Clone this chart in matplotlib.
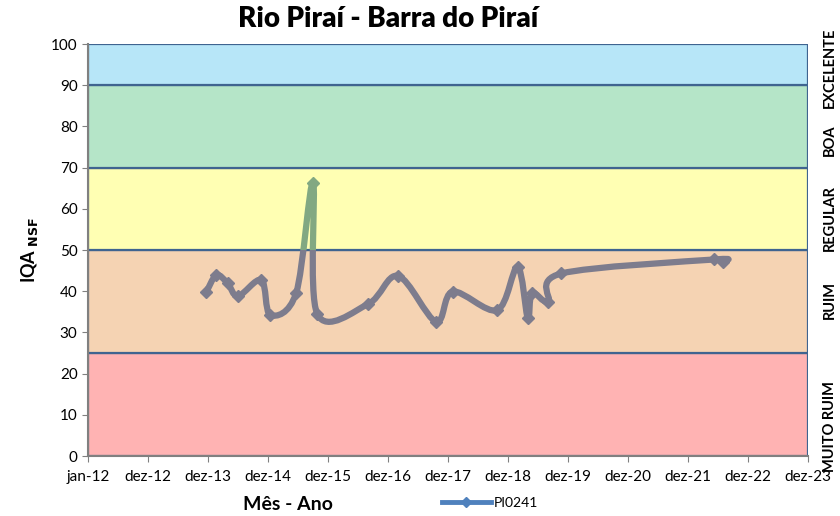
import numpy as np
import matplotlib
matplotlib.use("Agg")
import matplotlib.pyplot as plt
from matplotlib.path import Path
from matplotlib.patches import PathPatch, Rectangle
from matplotlib.lines import Line2D

# ---- data ----
x_years = [2013.97, 2014.14, 2014.33, 2014.50, 2014.89, 2015.04, 2015.47, 2015.75,
           2015.82, 2016.67, 2017.17, 2017.80, 2018.08, 2018.82, 2019.16, 2019.33,
           2019.40, 2019.67, 2019.89, 2022.44, 2022.58]
iqa = [39.7, 43.9, 41.9, 38.8, 42.7, 34.2, 39.6, 66.3,
       34.5, 36.9, 43.7, 32.6, 39.9, 35.4, 45.9, 33.4,
       39.6, 37.5, 44.3, 47.7, 47.2]
series_name = "PI0241"
tick_years = list(range(2012, 2025))
tick_labels = ["jan-12", "dez-12", "dez-13", "dez-14", "dez-15", "dez-16", "dez-17",
               "dez-18", "dez-19", "dez-20", "dez-21", "dez-22", "dez-23"]
band_edges = [0, 25, 50, 70, 90, 100]
band_colors = ["#ffb3b3", "#f5d3b3", "#ffffb3", "#b5e5c8", "#b7e6f8"]
band_names = ["MUITO RUIM", "RUIM", "REGULAR", "BOA", "EXCELENTE"]

FONT = "Lato"
plt.rcParams["font.family"] = [FONT, "DejaVu Sans"]

fig = plt.figure(figsize=(8.4, 5.16), dpi=100)
ax = fig.add_axes([88/840, 1-456/516, 720/840, 412/516])
ax.set_xlim(2012, 2024)
ax.set_ylim(0, 100)

# bands
for lo, hi, c in zip(band_edges[:-1], band_edges[1:], band_colors):
    ax.add_patch(Rectangle((2012, lo), 12, hi - lo, facecolor=c,
                           edgecolor="#3f6490", linewidth=1.6, zorder=1))

# smoothed line (Catmull-Rom -> cubic Bezier)
x = np.array(x_years); y = np.array(iqa)
verts = [(x[0], y[0])]; codes = [Path.MOVETO]
n = len(x)
for i in range(n - 1):
    p0 = np.array([x[max(i-1, 0)], y[max(i-1, 0)]])
    p1 = np.array([x[i], y[i]])
    p2 = np.array([x[i+1], y[i+1]])
    p3 = np.array([x[min(i+2, n-1)], y[min(i+2, n-1)]])
    c1 = p1 + (p2 - p0) / 6.0
    c2 = p2 - (p3 - p1) / 6.0
    verts += [tuple(c1), tuple(c2), tuple(p2)]
    codes += [Path.CURVE4] * 3
path = Path(verts, codes)

for color, (lo, hi) in [("#7d7c8d", (-10, 50)), ("#82a882", (50, 110))]:
    patch = PathPatch(path, facecolor="none", edgecolor=color, linewidth=4.5,
                      capstyle="round", joinstyle="round", zorder=3)
    ax.add_patch(patch)
    clip = Rectangle((2011, lo), 14, hi - lo, transform=ax.transData)
    patch.set_clip_path(clip)
    mk = ax.plot(x, y, linestyle="none", marker="D", markersize=6.5,
                 color=color, zorder=4)[0]
    mk.set_clip_path(clip)

ax.set_xticks(tick_years)
ax.set_xticklabels(tick_labels)
ax.set_yticks(range(0, 101, 10))
ax.tick_params(axis="both", labelsize=11, length=4, color="#808080")
ax.tick_params(axis="x", pad=6)
for s in ["top", "right"]:
    ax.spines[s].set_visible(False)
ax.spines["left"].set_color("#808080")
ax.spines["bottom"].set_color("#808080")
ax.spines["left"].set_linewidth(1.5)
ax.spines["bottom"].set_linewidth(1.5)

fig.text(388/840, 1-19/516, "Rio Piraí - Barra do Piraí", ha="center", va="center",
         fontsize=20, fontweight="heavy")
fig.text(30/840, 1-250/516, r"IQA $_{\mathbf{NSF}}$", rotation=90, ha="center", va="center",
         fontsize=13, fontweight="bold")
fig.text(288/840, 1-505/516, "Mês - Ano", ha="center", va="center",
         fontsize=14, fontweight="bold")

label_y = [427, 300, 218, 140, 68]
for name, yy in zip(band_names, label_y):
    fig.text(830/840, 1-yy/516, name, rotation=90, ha="center", va="center",
             fontsize=10.5, fontweight="bold")

handle = Line2D([], [], color="#4f81bd", linewidth=3.5, marker="D", markersize=5)
fig.legend([handle], [series_name], loc="center", bbox_to_anchor=(490/840, 1-503/516),
           frameon=False, fontsize=10, handlelength=3.5, handletextpad=0.2)

fig.savefig("out.png", dpi=100)
